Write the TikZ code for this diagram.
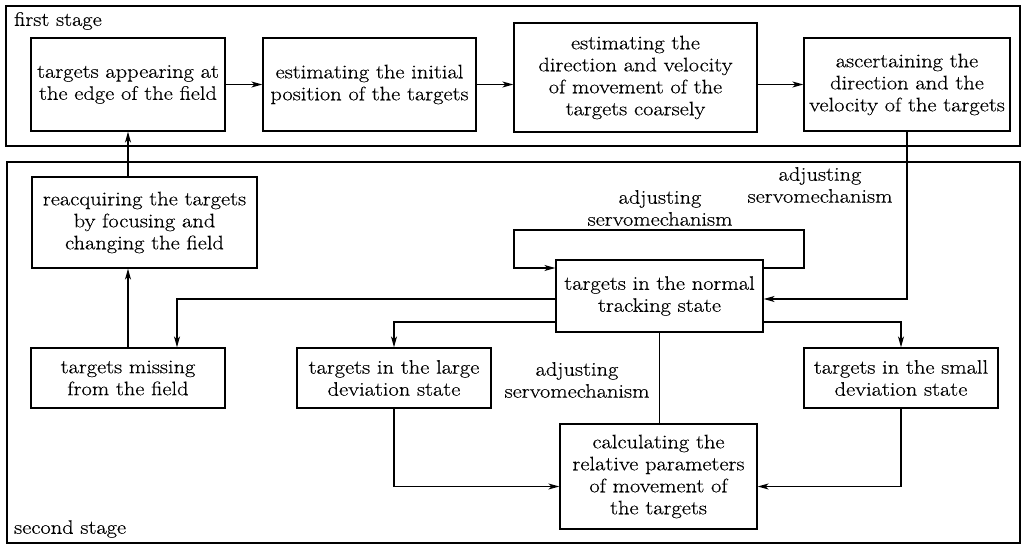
\documentclass[tikz,border=0pt]{standalone}
\usepackage{fontspec}
\setmainfont{Latin Modern Roman}[FakeStretch=1.15,FakeBold=0.4]
\usetikzlibrary{arrows.meta}
\begin{document}
\begin{tikzpicture}[x=1pt,y=-1pt,
  box/.style={draw,line width=1.3pt,inner sep=0pt,align=center,font=\fontsize{19.5}{22}\selectfont},
  lbl/.style={inner sep=0pt,align=center,font=\fontsize{19.5}{22}\selectfont},
  conn/.style={line width=1.3pt},
  arr/.style={conn,-{Stealth[length=11pt,width=6pt,inset=3pt]}},
  frame/.style={line width=1.3pt}]
\useasboundingbox (0,0) rectangle (1023,545);
% frames
\draw[frame] (6,6) rectangle (1020,146);
\draw[frame] (7,162) rectangle (1020,543);
\node[lbl,anchor=west] (fs) at (14,21) {first stage};
\node[lbl,anchor=west] (ss) at (14,529) {second stage};
% first stage boxes
\node[box,minimum width=194pt,minimum height=93pt] (A) at (128,84.5) {targets appearing at\\the edge of the field};
\node[box,minimum width=213pt,minimum height=93pt] (B) at (369.5,84.5) {estimating the initial\\position of the targets};
\node[box,minimum width=243pt,minimum height=109pt] (C) at (635.5,77.5) {estimating the\\direction and velocity\\of movement of the\\targets coarsely};
\node[box,minimum width=206pt,minimum height=93pt] (D) at (907,84.5) {ascertaining the\\direction and the\\velocity of the targets};
% second stage boxes
\node[box,minimum width=225pt,minimum height=91pt] (R) at (144.5,222.5) {reacquiring the targets\\by focusing and\\changing the field};
\node[box,minimum width=207pt,minimum height=72pt] (N) at (659.5,296) {targets in the normal\\tracking state};
\node[box,minimum width=194pt,minimum height=60pt] (M) at (128,378) {targets missing\\from the field};
\node[box,minimum width=194pt,minimum height=60pt] (Lg) at (394,378) {targets in the large\\deviation state};
\node[box,minimum width=194pt,minimum height=60pt] (Sm) at (901,378) {targets in the small\\deviation state};
\node[box,minimum width=197pt,minimum height=105pt] (Cal) at (658.5,476.5) {calculating the\\relative parameters\\of movement of\\the targets};
% labels
\node[lbl] (L1) at (660,208) {adjusting\\servomechanism};
\node[lbl] (L2) at (820,185) {adjusting\\servomechanism};
\node[lbl] (L3) at (577,380) {adjusting\\servomechanism};
% first stage connectors
\draw[arr] (A.east) -- (B.west);
\draw[arr] (B.east) -- (B.east -| C.west);
\draw[arr] (C.east |- D.west) -- (D.west);
% second stage connectors
\draw[arr] (R.north -| A.south) -- (A.south);
\draw[arr] (M.north) -- (M.north |- R.south);
\draw[arr] (D.south) |- ([yshift=-3pt]N.east);
\coordinate (lp1) at (804,230);
\coordinate (lp2) at (514,230);
\draw[arr] ([yshift=28pt]N.east) -| (lp1) -- (lp2) |- ([yshift=28pt]N.west);
\draw[arr] ([yshift=-3pt]N.west) -| ([xshift=49pt]M.north);
\draw[arr] ([yshift=-26pt]N.west) -| (Lg.north);
\draw[arr] ([yshift=-26pt]N.east) -| (Sm.north);
\draw[conn] (N.south) -- (N.south |- Cal.north);
\draw[arr] (Lg.south) |- ([yshift=-10pt]Cal.west);
\draw[arr] (Sm.south) |- ([yshift=-10pt]Cal.east);
\end{tikzpicture}
\end{document}
